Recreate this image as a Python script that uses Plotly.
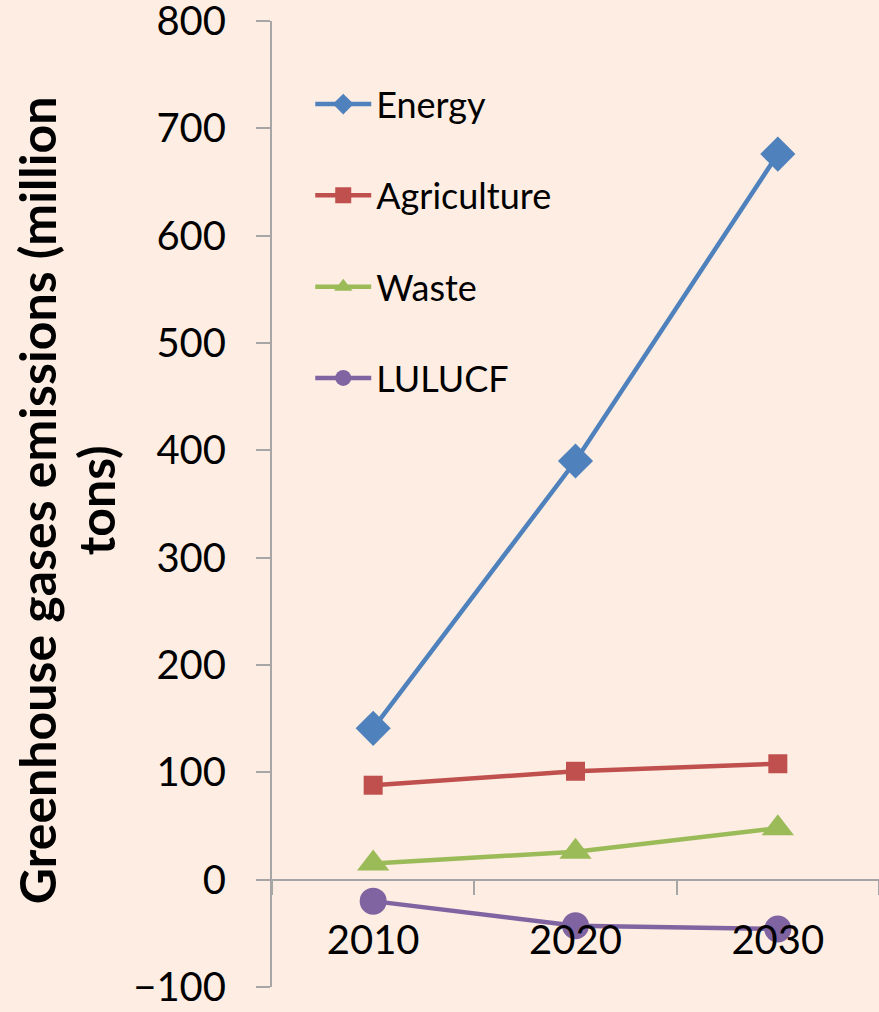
import plotly.graph_objects as go

years = ["2010", "2020", "2030"]
energy = [141, 390, 676]
agriculture = [88, 101, 108]
waste = [15, 26, 48]
lulucf = [-20, -43, -46]

series = [
    ("Energy", energy, "#4F81BD", "diamond", 27),
    ("Agriculture", agriculture, "#C0504D", "square", 19),
    ("Waste", waste, "#9BBB59", "triangle-up", 28),
    ("LULUCF", lulucf, "#8064A2", "circle", 27),
]

title_lines = ["Greenhouse gases emissions (million", "tons)"]

bg = "#FDEDE2"
font = "Lato, Open Sans, sans-serif"

fig = go.Figure()
for name, vals, color, sym, size in series:
    fig.add_trace(go.Scatter(
        x=years, y=vals, name=name, legendgroup=name,
        mode="lines+markers",
        line=dict(color=color, width=4.5),
        marker=dict(symbol=sym, size=size, color=color, line=dict(width=0)),
        cliponaxis=False,
    ))

ymin, ymax = -100, 800
fig.update_layout(
    width=879, height=1012,
    paper_bgcolor=bg, plot_bgcolor=bg,
    margin=dict(l=272, r=0, t=21, b=25),
    font=dict(family=font, color="black"),
    showlegend=True,
    legend=dict(
        x=0.063, y=0.945, xanchor="left", yanchor="top",
        bgcolor="rgba(0,0,0,0)",
        font=dict(size=36, family=font, color="black"),
        tracegroupgap=41.5, itemwidth=56,
    ),
    xaxis=dict(
        type="category", range=[-0.5, 2.5],
        anchor="free", position=(0 - ymin) / (ymax - ymin),
        showline=True, linecolor="#A6A6A6", linewidth=2,
        ticks="outside", tickson="boundaries", ticklen=14, tickcolor="#A6A6A6", tickwidth=2,
        showgrid=False, zeroline=False,
        tickfont=dict(size=40, family=font, color="black"),
        ticklabelstandoff=25,
        ticklabeloverflow="allow",
    ),
    yaxis=dict(
        range=[ymin, ymax], dtick=100, tick0=0,
        showline=True, linecolor="#A6A6A6", linewidth=2,
        ticks="outside", ticklen=14, tickcolor="#A6A6A6", tickwidth=2,
        showgrid=False, zeroline=False,
        tickfont=dict(size=40, family=font, color="black"),
        ticklabelstandoff=22,
        ticklabeloverflow="allow",
        automargin=False,
    ),
)

for line_text, xpx in zip(title_lines, [37, 96]):
    fig.add_annotation(
        text="<b>" + line_text + "</b>",
        xref="paper", yref="paper",
        x=(xpx - 272) / 607, y=0.504,
        xanchor="center", yanchor="middle",
        textangle=-90, showarrow=False,
        font=dict(size=50, family=font, color="black"),
    )

fig.write_html(
    "out.html",
    config={"displayModeBar": False},
    post_script="document.body.style.margin='0';document.body.style.overflow='hidden';",
)
